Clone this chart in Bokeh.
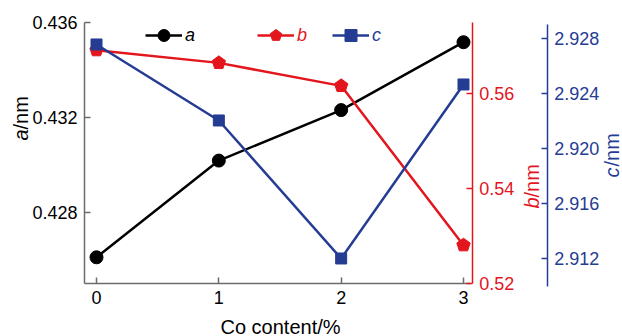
import numpy as np
from bokeh.plotting import figure
from bokeh.models import (LinearAxis, Range1d, FixedTicker, PrintfTickFormatter,
                          Label, Legend, LegendItem)
from bokeh.embed import file_html
from bokeh.resources import INLINE

# Co content (%) and lattice parameters (nm)
co_content = [0, 1, 2, 3]
a_nm = [0.42613, 0.43019, 0.43231, 0.43516]
b_nm = [0.56912, 0.56644, 0.56160, 0.52806]
c_nm = [2.92759, 2.92206, 2.91202, 2.92468]

x_ticks = [0, 1, 2, 3]
a_ticks = [0.428, 0.432, 0.436]
b_ticks = [0.52, 0.54, 0.56]
c_ticks = [2.912, 2.916, 2.920, 2.924, 2.928]

BLACK = "#000000"
RED = "#e3151d"
BLUE = "#253c93"
GRAY = "#6b6b6b"
FONT = "Liberation Sans"
FS = "18px"
TITLE_FS = "20px"

W, H = 622, 336

# The plotting frame fills the whole canvas; every axis is pinned at a
# data location and its line is limited with bounds.
p = figure(width=W, height=H, output_backend="svg", toolbar_location=None,
           x_range=Range1d(-0.7848, 4.2999), y_range=Range1d(0.422805, 0.436911),
           min_border=0)
p.outline_line_color = None
p.xgrid.visible = False
p.ygrid.visible = False
p.background_fill_color = "white"
p.border_fill_color = "white"

p.extra_y_ranges = {"b": Range1d(0.508844, 0.579568), "c": Range1d(2.906344, 2.930789)}

X_LEFT, X_RED, X_BLUE = -0.098, 3.071, 3.6843


def style_axis(ax, color, label_color):
    ax.axis_line_color = color
    ax.axis_line_width = 1.5
    ax.major_tick_line_color = color
    ax.major_tick_line_width = 1.5
    ax.major_tick_in = 6
    ax.major_tick_out = 0
    ax.minor_tick_line_color = None
    ax.major_label_text_font = FONT
    ax.major_label_text_font_size = FS
    ax.major_label_text_color = label_color
    ax.major_label_standoff = 7


# bottom axis
xa = p.xaxis[0]
xa.ticker = FixedTicker(ticks=x_ticks)
xa.fixed_location = 0.42503
xa.bounds = (X_LEFT, 3.06)
style_axis(xa, GRAY, "black")

# left axis (a)
ya = p.yaxis[0]
ya.ticker = FixedTicker(ticks=a_ticks)
ya.formatter = PrintfTickFormatter(format="%.3f")
ya.fixed_location = X_LEFT
ya.bounds = (0.42503, 0.436)
style_axis(ya, GRAY, "black")

# red axis (b)
b_axis = LinearAxis(y_range_name="b", ticker=FixedTicker(ticks=b_ticks),
                    formatter=PrintfTickFormatter(format="%.2f"),
                    fixed_location=X_RED, bounds=(0.52, 0.575))
style_axis(b_axis, RED, RED)
p.add_layout(b_axis, "right")

# blue axis (c)
c_axis = LinearAxis(y_range_name="c", ticker=FixedTicker(ticks=c_ticks),
                    formatter=PrintfTickFormatter(format="%.3f"),
                    fixed_location=X_BLUE, bounds=(2.90998, 2.92905))
style_axis(c_axis, BLUE, BLUE)
p.add_layout(c_axis, "right")

# series
la = p.line(co_content, a_nm, line_color=BLACK, line_width=2.5)
sa = p.scatter(co_content, a_nm, marker="circle", size=13, fill_color=BLACK, line_color=BLACK)

lb = p.line(co_content, b_nm, line_color=RED, line_width=2.5, y_range_name="b")
# upright pentagons
sb = p.ngon(co_content, b_nm, radius=7, radius_units="screen", n=5, angle=0,
            fill_color=RED, line_color=RED, y_range_name="b")

lc = p.line(co_content, c_nm, line_color=BLUE, line_width=2.5, y_range_name="c")
sc = p.scatter(co_content, c_nm, marker="square", size=11, fill_color=BLUE, line_color=BLUE,
               y_range_name="c")

# one legend per series so each label carries its own colour
for name, rends, color, loc in [("a", [la, sa], BLACK, (145, 286)),
                                ("b", [lb, sb], RED, (257, 286)),
                                ("c", [lc, sc], BLUE, (332, 286))]:
    lg = Legend(items=[LegendItem(label=name, renderers=rends)], location=loc,
                orientation="horizontal", border_line_color=None,
                background_fill_alpha=0, padding=0, margin=0, spacing=0,
                glyph_width=37, glyph_height=30, label_standoff=3,
                label_text_font=FONT, label_text_font_size=FS,
                label_text_font_style="italic", label_text_color=color)
    p.add_layout(lg, "center")


# axis titles: italic symbol followed by the unit, reading upwards
def axis_title(sym, x, y_bottom, color, sym_width=11):
    p.add_layout(Label(x=x, y=H - y_bottom, x_units="screen", y_units="screen", text=sym,
                       angle=np.pi / 2, text_align="left", text_baseline="middle",
                       text_font=FONT, text_font_size=TITLE_FS, text_font_style="italic",
                       text_color=color))
    p.add_layout(Label(x=x, y=H - y_bottom + sym_width, x_units="screen", y_units="screen",
                       text="/nm", angle=np.pi / 2, text_align="left",
                       text_baseline="middle", text_font=FONT, text_font_size=TITLE_FS,
                       text_color=color))


axis_title("a", 20, 140, BLACK)
axis_title("b", 531, 208, RED)
axis_title("c", 611, 177, BLUE)

p.add_layout(Label(x=280, y=H - 326, x_units="screen", y_units="screen",
                   text="Co content/%", text_align="center", text_baseline="middle",
                   text_font=FONT, text_font_size=TITLE_FS, text_color="black"))

open("out.html", "w").write(file_html(p, INLINE))
